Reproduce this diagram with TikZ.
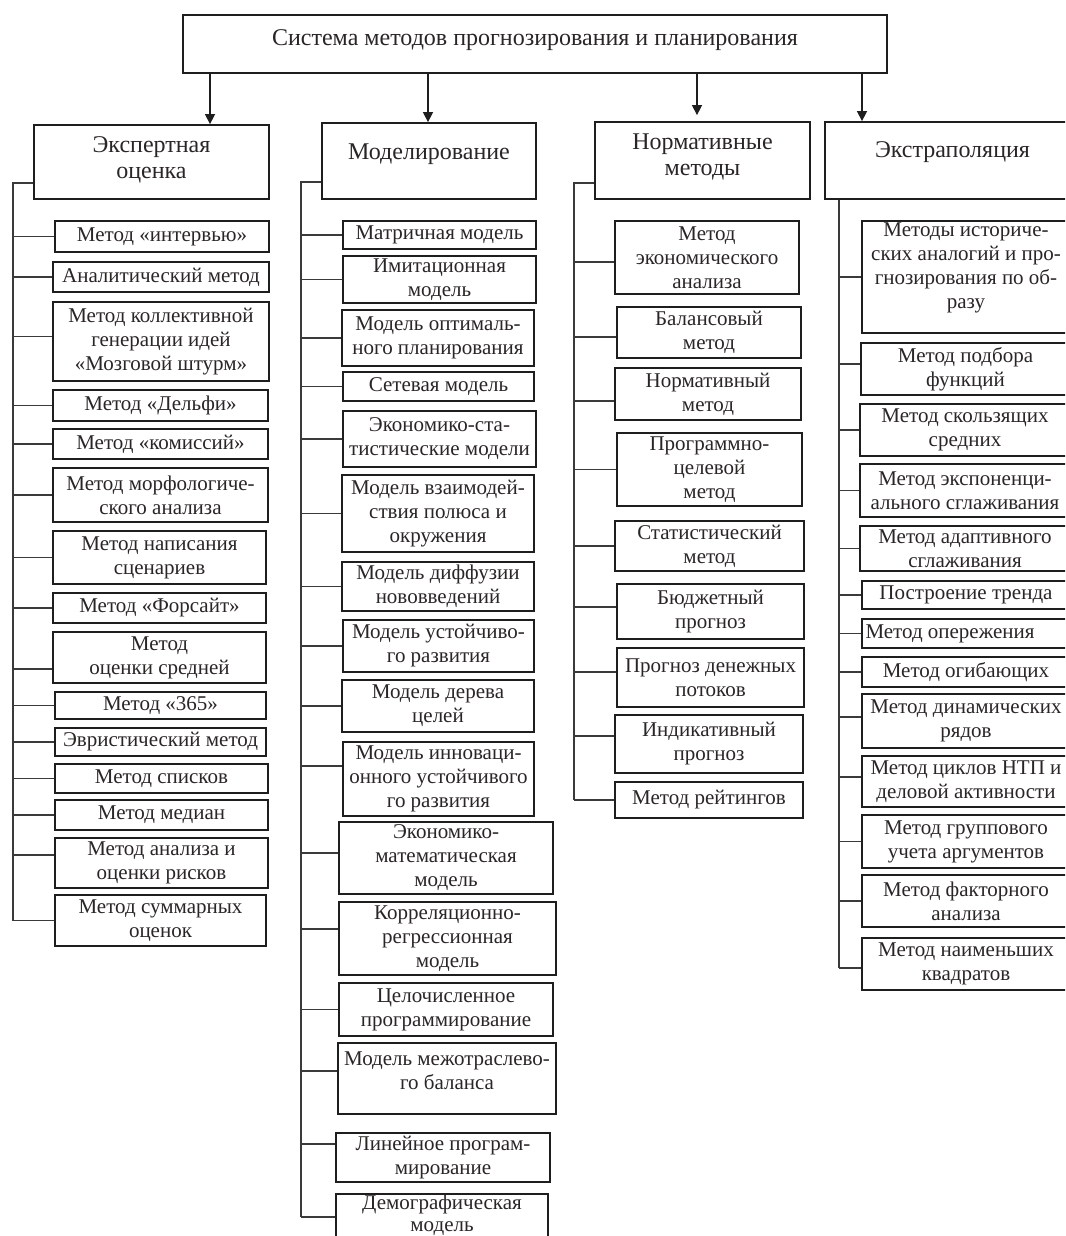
\documentclass[tikz,border=0pt]{standalone}
\usepackage{fontspec}
\setmainfont{Liberation Serif}
\usepackage{tikz}
\usetikzlibrary{arrows.meta,positioning}
\definecolor{figink}{HTML}{1E1E1E}
\definecolor{figtext}{HTML}{2B2626}
\definecolor{figwire}{HTML}{3A3A3A}

\tikzset{
  framebox/.style={draw=figink, line width=0.9pt, inner sep=0pt},
  itemtext/.style={text=figtext, align=center, inner sep=0pt, font=\fontsize{10.5}{12}\selectfont},
  cattext/.style={font=\fontsize{12}{13}\selectfont},
  link/.style={draw=figwire, line width=0.75pt},
  arr/.style={draw=figink, line width=0.75pt, -{Triangle[length=5pt,width=5pt]}},
}

% box from (x1,y1) to (x2,y2), text at its centre
\newcommand{\boxat}[7][]{%
  \node[framebox, minimum width={(#5-#3)*0.5pt}, minimum height={(#6-#4)*0.5pt}]
    (#2) at ({(#3+#5)/2},{(#4+#6)/2}) {};
  \node[itemtext,#1] (#2-t) at (#2.center) {#7};}
% branch from a spine to the west side of a box
\newcommand{\stub}[3][0pt]{\draw[link] ([yshift=#1]#3.west -| #2) -- ([yshift=#1]#3.west);}

\begin{document}
\begin{tikzpicture}[x=0.5pt,y=-0.5pt]
\fill[white] (0,0) rectangle (1065,1236);
\useasboundingbox (0,0) rectangle (1065,1236);
\clip (0,0) rectangle (1065,1236);

\boxat[cattext,yshift=2pt]{sys}{183}{15}{887}{73}{Система методов прогнозирования и планирования}

\boxat[cattext,yshift=1pt]{expert}{34}{125}{269}{199}{Экспертная\\оценка}
\boxat[cattext,yshift=3.5pt]{model}{322}{123}{536}{199}{Моделирование}
\boxat[cattext,yshift=1.75pt]{norm}{595}{122}{810}{199}{Нормативные\\методы}
\boxat[cattext,yshift=4pt]{extra}{825}{122}{1080}{199}{Экстраполяция}

\coordinate (a1) at (210,0);
\coordinate (a2) at (428,0);
\coordinate (a3) at (697,0);
\coordinate (a4) at (862,0);
\draw[arr] (sys.south -| a1) -- (expert.north -| a1);
\draw[arr] (sys.south -| a2) -- (model.north -| a2);
\draw[arr] (sys.south -| a3) -- ([yshift=3pt]norm.north -| a3);
\draw[arr] (sys.south -| a4) -- (extra.north -| a4);

%% expert assessment
\boxat{e1}{55}{221}{269}{252}{Метод «интервью»}
\boxat{e2}{53}{262}{269}{292}{Аналитический метод}
\boxat{e3}{53}{302}{269}{381}{Метод коллективной\\генерации идей\\«Мозговой штурм»}
\boxat{e4}{53}{390}{268}{421}{Метод «Дельфи»}
\boxat{e5}{53}{429}{268}{459}{Метод «комиссий»}
\boxat{e6}{53}{468}{268}{522}{Метод морфологиче-\\ского анализа}
\boxat{e7}{53}{531}{266}{584}{Метод написания\\сценариев}
\boxat{e8}{53}{593}{266}{623}{Метод «Форсайт»}
\boxat{e9}{53}{632}{266}{683}{Метод\\оценки средней}
\boxat{e10}{55}{692}{266}{719}{Метод «365»}
\boxat{e11}{55}{728}{266}{756}{Эвристический метод}
\boxat{e12}{55}{764}{268}{793}{Метод списков}
\boxat{e13}{55}{800}{268}{830}{Метод медиан}
\boxat{e14}{55}{838}{268}{888}{Метод анализа и\\оценки рисков}
\boxat{e15}{55}{895}{266}{946}{Метод суммарных\\оценок}

\coordinate (s1) at (13,183);
\draw[link] (expert.west |- s1) -- (s1) -- (s1 |- e15.west);
\stub{s1}{e1} \stub{s1}{e2} \stub[2.5pt]{s1}{e3} \stub{s1}{e4} \stub{s1}{e5}
\stub{s1}{e6} \stub{s1}{e7} \stub{s1}{e8} \stub[-5.75pt]{s1}{e9} \stub{s1}{e10}
\stub{s1}{e11} \stub{s1}{e12} \stub{s1}{e13} \stub[4pt]{s1}{e14} \stub{s1}{e15}

%% modelling
\boxat{m1}{343}{221}{536}{249}{Матричная модель}
\boxat{m2}{343}{256}{536}{303}{Имитационная\\модель}
\boxat{m3}{342}{310}{534}{366}{Модель оптималь-\\ного планирования}
\boxat{m4}{343}{372}{534}{401}{Сетевая модель}
\boxat{m5}{343}{411}{536}{467}{Экономико-ста-\\тистические модели}
\boxat{m6}{342}{475}{534}{552}{Модель взаимодей-\\ствия полюса и\\окружения}
\boxat{m7}{342}{562}{534}{611}{Модель диффузии\\нововведений}
\boxat{m8}{343}{620}{534}{672}{Модель устойчиво-\\го развития}
\boxat{m9}{342}{680}{534}{732}{Модель дерева\\целей}
\boxat{m10}{343}{742}{534}{816}{Модель инноваци-\\онного устойчивого\\го развития}
\boxat{m11}{339}{822}{553}{894}{Экономико-\\математическая\\модель}
\boxat{m12}{339}{902}{556}{975}{Корреляционно-\\регрессионная\\модель}
\boxat{m13}{339}{983}{553}{1036}{Целочисленное\\программирование}
\boxat[yshift=3.75pt]{m14}{338}{1043}{556}{1114}{Модель межотраслево-\\го баланса}
\boxat{m15}{336}{1133}{550}{1182}{Линейное програм-\\мирование}
\boxat[yshift=3.25pt,font=\fontsize{10.5}{11}\selectfont]{m16}{336}{1194}{548}{1250}{Демографическая\\модель}

\coordinate (s2) at (301,182);
\draw[link] (model.west |- s2) -- (s2) -- ([yshift=2.5pt]m16.west -| s2);
\stub{s2}{m1} \stub{s2}{m2} \stub{s2}{m3} \stub{s2}{m4} \stub{s2}{m5}
\stub{s2}{m6} \stub{s2}{m7} \stub{s2}{m8} \stub{s2}{m9} \stub[6.5pt]{s2}{m10}
\stub[2.5pt]{s2}{m11} \stub[4.75pt]{s2}{m12} \stub{s2}{m13} \stub[3.75pt]{s2}{m14}
\stub[6.75pt]{s2}{m15} \stub[2.5pt]{s2}{m16}

%% normative methods
\boxat{n1}{615}{221}{799}{294}{Метод\\экономического\\анализа}
\boxat{n2}{617}{307}{801}{358}{Балансовый\\метод}
\boxat{n3}{615}{368}{801}{420}{Нормативный\\метод}
\boxat{n4}{617}{433}{802}{506}{Программно-\\целевой\\метод}
\boxat{n5}{615}{521}{804}{571}{Статистический\\метод}
\boxat{n6}{617}{584}{804}{639}{Бюджетный\\прогноз}
\boxat{n7}{617}{648}{804}{707}{Прогноз денежных\\потоков}
\boxat{n8}{615}{715}{803}{773}{Индикативный\\прогноз}
\boxat{n9}{615}{782}{803}{818}{Метод рейтингов}

\coordinate (s3) at (574,183);
\draw[link] (norm.west |- s3) -- (s3) -- (n9.west -| s3);
\stub[-2.25pt]{s3}{n1} \stub[-2.25pt]{s3}{n2} \stub[-3.5pt]{s3}{n3} \stub{s3}{n4}
\stub{s3}{n5} \stub[2.25pt]{s3}{n6} \stub[2.75pt]{s3}{n7} \stub[4pt]{s3}{n8} \stub{s3}{n9}

%% extrapolation
\boxat[yshift=4.5pt]{x1}{862}{221}{1070}{333}{Методы историче-\\ских аналогий и про-\\гнозирования по об-\\разу}
\boxat{x2}{861}{343}{1070}{395}{Метод подбора\\функций}
\boxat{x3}{860}{404}{1070}{456}{Метод скользящих\\средних}
\boxat{x4}{860}{464}{1070}{517}{Метод экспоненци-\\ального сглаживания}
\boxat{x5}{860}{526}{1070}{571}{Метод адаптивного\\сглаживания}
\boxat{x6}{862}{581}{1070}{609}{Построение тренда}
\boxat[xshift=-8pt]{x7}{862}{619}{1070}{648}{Метод опережения}
\boxat{x8}{862}{657}{1070}{687}{Метод огибающих}
\boxat{x9}{862}{694}{1070}{748}{Метод динамических\\рядов}
\boxat{x10}{862}{756}{1070}{807}{Метод циклов НТП и\\деловой активности}
\boxat{x11}{862}{815}{1070}{868}{Метод группового\\учета аргументов}
\boxat{x12}{862}{875}{1070}{927}{Метод факторного\\анализа}
\boxat{x13}{862}{938}{1070}{990}{Метод наименьших\\квадратов}

\coordinate (s4) at (839,199);
\draw[link] (extra.south -| s4) -- ([yshift=-2pt]x13.west -| s4);
\stub{s4}{x1} \stub[2.5pt]{s4}{x2} \stub{s4}{x3} \stub{s4}{x4} \stub{s4}{x5}
\stub{s4}{x6} \stub{s4}{x7} \stub{s4}{x8} \stub[2pt]{s4}{x9} \stub[2.25pt]{s4}{x10}
\stub{s4}{x11} \stub{s4}{x12} \stub[-2pt]{s4}{x13}
\end{tikzpicture}
\end{document}
